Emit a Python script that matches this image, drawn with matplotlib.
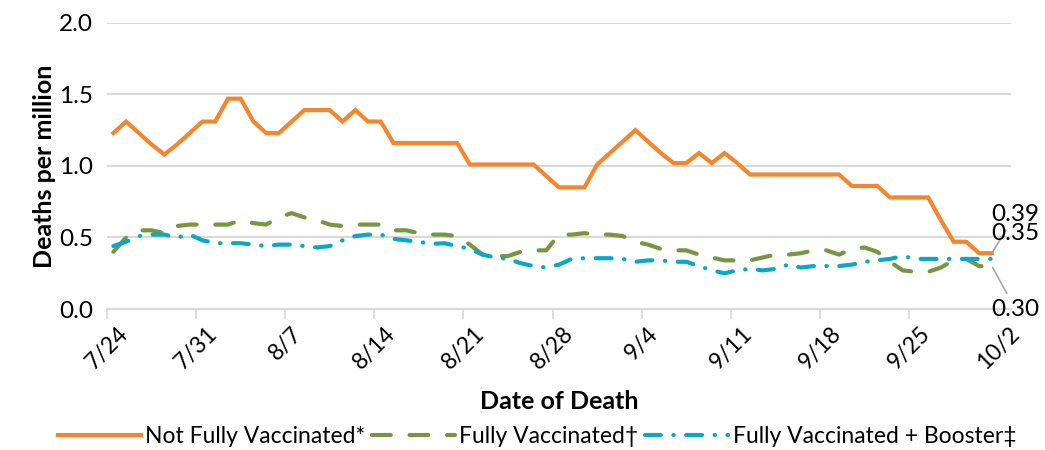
import numpy as np
import matplotlib
matplotlib.use("Agg")
import matplotlib.pyplot as plt

plt.rcParams['font.family'] = ['Lato', 'DejaVu Sans']

# daily values, 7/24 .. 10/1 (70 days)
not_fully = [1.23, 1.31, 1.23, 1.15, 1.08, 1.15, 1.23, 1.31, 1.31, 1.47,
             1.47, 1.31, 1.23, 1.23, 1.31, 1.39, 1.39, 1.39, 1.31, 1.39,
             1.31, 1.31, 1.16, 1.16, 1.16, 1.16, 1.16, 1.16, 1.01, 1.01,
             1.01, 1.01, 1.01, 1.01, 0.93, 0.85, 0.85, 0.85, 1.01, 1.09,
             1.17, 1.25, 1.17, 1.09, 1.02, 1.02, 1.09, 1.02, 1.09, 1.02,
             0.94, 0.94, 0.94, 0.94, 0.94, 0.94, 0.94, 0.94, 0.86, 0.86,
             0.86, 0.78, 0.78, 0.78, 0.78, 0.62, 0.47, 0.47, 0.39, 0.39]
fully = [0.40, 0.50, 0.55, 0.55, 0.53, 0.58, 0.59, 0.59, 0.59, 0.59,
         0.62, 0.60, 0.59, 0.64, 0.67, 0.64, 0.62, 0.59, 0.58, 0.59,
         0.59, 0.59, 0.55, 0.55, 0.53, 0.52, 0.52, 0.51, 0.45, 0.38,
         0.37, 0.37, 0.40, 0.41, 0.41, 0.52, 0.52, 0.53, 0.52, 0.52,
         0.51, 0.47, 0.45, 0.42, 0.41, 0.41, 0.38, 0.36, 0.34, 0.34,
         0.34, 0.36, 0.38, 0.38, 0.39, 0.41, 0.41, 0.38, 0.42, 0.43,
         0.40, 0.33, 0.27, 0.26, 0.26, 0.29, 0.34, 0.35, 0.30, 0.30]
booster = [0.44, 0.47, 0.51, 0.52, 0.52, 0.50, 0.52, 0.48, 0.46, 0.46,
           0.46, 0.45, 0.44, 0.45, 0.45, 0.44, 0.43, 0.44, 0.48, 0.51,
           0.52, 0.52, 0.49, 0.48, 0.47, 0.455, 0.46, 0.44, 0.42, 0.38,
           0.36, 0.35, 0.32, 0.30, 0.29, 0.31, 0.35, 0.355, 0.355, 0.355,
           0.35, 0.33, 0.34, 0.34, 0.33, 0.33, 0.30, 0.27, 0.25, 0.27,
           0.28, 0.27, 0.28, 0.31, 0.29, 0.30, 0.30, 0.30, 0.31, 0.33,
           0.34, 0.35, 0.37, 0.35, 0.35, 0.35, 0.35, 0.35, 0.35, 0.35]
tick_labels = ['7/24', '7/31', '8/7', '8/14', '8/21', '8/28', '9/4',
               '9/11', '9/18', '9/25', '10/2']

orange = '#F5862B'
green = '#77963F'
blue = '#0AA8C8'
grid_col = '#D9D9D9'

fig = plt.figure(figsize=(10.45, 4.5), dpi=100)
ax = fig.add_axes([0.1024, 0.3133, 0.865, 0.636])

x = np.arange(len(not_fully)) + 0.5
ax.plot(x, not_fully, color=orange, lw=3.0, solid_joinstyle='miter',
        label='Not Fully Vaccinated*')
ax.plot(x, fully, color=green, lw=3.0, dashes=(4.5, 4.5), dash_capstyle='round',
        label='Fully Vaccinated\u2020')
ax.plot(x, booster, color=blue, lw=3.0, dashes=(3.8, 3.0, 0.1, 3.0),
        dash_capstyle='round', label='Fully Vaccinated + Booster\u2021')

ax.set_xlim(0, 71)
ax.set_ylim(0, 2.0)
ax.set_yticks(np.arange(0, 2.01, 0.5))
ax.set_yticklabels([f'{v:.1f}' for v in np.arange(0, 2.01, 0.5)], fontsize=17.5)
ax.set_xticks(np.arange(0, 71, 7))
ax.set_xticklabels(tick_labels, rotation=45, ha='center', va='top', fontsize=16.5)
ax.tick_params(axis='y', length=0, pad=10)
ax.tick_params(axis='x', length=7, width=1.2, color=grid_col, pad=3)
ax.grid(axis='y', color=grid_col, lw=1.5)
ax.set_axisbelow(True)
for s in ['left', 'right', 'top']:
    ax.spines[s].set_visible(False)
ax.spines['bottom'].set_color(grid_col)
ax.spines['bottom'].set_linewidth(1.5)

ax.set_ylabel('Deaths per million', fontsize=18, fontweight='bold', labelpad=2)
ax.set_xlabel('Date of Death', fontsize=18, fontweight='bold', labelpad=12)

# end-point data labels with leader lines
last = x[-1]
ax.annotate(f'{not_fully[-1]:.2f}', xy=(last, not_fully[-1]), xytext=(17, 28),
            textcoords='offset points', ha='center', va='center', fontsize=17.5,
            annotation_clip=False,
            arrowprops=dict(arrowstyle='-', color='#A6A6A6', lw=1.2, shrinkA=2, shrinkB=1))
ax.annotate(f'{booster[-1]:.2f}', xy=(last, booster[-1]), xytext=(17, 18),
            textcoords='offset points', ha='center', va='center', fontsize=17.5,
            annotation_clip=False)
ax.annotate(f'{fully[-1]:.2f}', xy=(last, fully[-1]), xytext=(17, -31),
            textcoords='offset points', ha='center', va='center', fontsize=17.5,
            annotation_clip=False,
            arrowprops=dict(arrowstyle='-', color='#A6A6A6', lw=1.2, shrinkA=2, shrinkB=1))

ax.legend(loc='center', bbox_to_anchor=(0.514, 0.03), bbox_transform=fig.transFigure,
          ncol=3, frameon=False, fontsize=16.5, handlelength=3.6,
          columnspacing=0.3, handletextpad=0.2)

fig.savefig('out.png', dpi=100)
